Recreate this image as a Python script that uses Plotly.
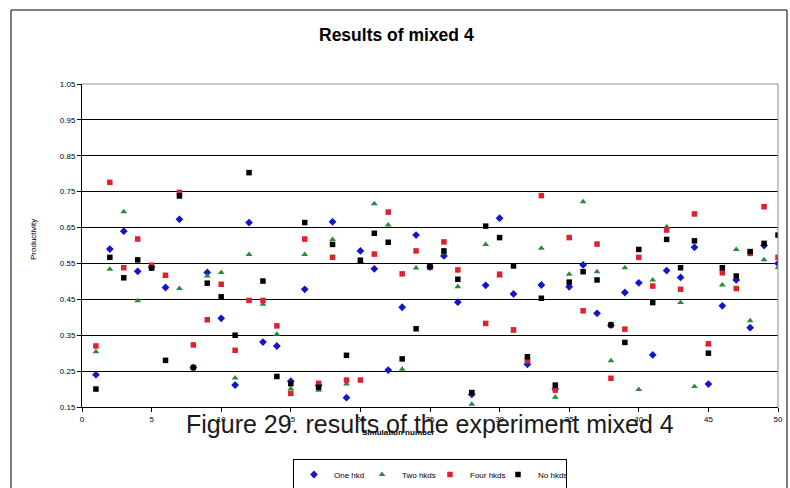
import plotly.graph_objects as go

sims = list(range(1, 51))

one_hkd = [0.24, 0.59, 0.64, 0.528, 0.54, 0.483, 0.673, 0.26, 0.525, 0.397,
           0.211, 0.664, 0.331, 0.32, 0.222, 0.478, 0.21, 0.666, 0.176, 0.585,
           0.535, 0.253, 0.428, 0.629, 0.54, 0.571, 0.442, 0.185, 0.489, 0.676,
           0.465, 0.269, 0.49, 0.2, 0.485, 0.546, 0.411, 0.378, 0.469, 0.496,
           0.295, 0.53, 0.511, 0.595, 0.214, 0.432, 0.504, 0.371, 0.6, 0.55]

two_hkds = [0.304, 0.534, 0.694, 0.446, 0.54, 0.515, 0.48, 0.262, 0.515, 0.525,
            0.231, 0.575, 0.436, 0.353, 0.201, 0.575, 0.197, 0.617, 0.214, 0.556,
            0.716, 0.657, 0.255, 0.537, 0.54, 0.58, 0.485, 0.158, 0.603, 0.515,
            0.362, 0.28, 0.592, 0.177, 0.52, 0.722, 0.527, 0.279, 0.538, 0.199,
            0.504, 0.652, 0.441, 0.207, 0.325, 0.49, 0.589, 0.39, 0.56, 0.539]

four_hkds = [0.32, 0.776, 0.538, 0.618, 0.545, 0.517, 0.748, 0.323, 0.393, 0.492,
             0.308, 0.447, 0.447, 0.376, 0.188, 0.618, 0.216, 0.567, 0.225, 0.225,
             0.576, 0.693, 0.521, 0.585, 0.54, 0.61, 0.532, 0.19, 0.383, 0.52,
             0.365, 0.279, 0.739, 0.197, 0.622, 0.418, 0.604, 0.23, 0.367, 0.567,
             0.487, 0.643, 0.478, 0.688, 0.326, 0.524, 0.48, 0.578, 0.708, 0.567]

no_hkds = [0.2, 0.567, 0.51, 0.56, 0.537, 0.28, 0.738, 0.26, 0.495, 0.457,
           0.35, 0.803, 0.501, 0.235, 0.215, 0.664, 0.205, 0.603, 0.294, 0.559,
           0.634, 0.609, 0.284, 0.368, 0.541, 0.585, 0.506, 0.19, 0.654, 0.622,
           0.543, 0.29, 0.453, 0.211, 0.498, 0.527, 0.504, 0.379, 0.33, 0.589,
           0.441, 0.617, 0.538, 0.613, 0.3, 0.538, 0.515, 0.583, 0.606, 0.629]

series = [
    ("One hkd", one_hkd, "diamond", "#1414c8", 6),
    ("Two hkds", two_hkds, "triangle-up", "#2a8a3a", 6),
    ("Four hkds", four_hkds, "square", "#e0202c", 5.5),
    ("No hkds", no_hkds, "square", "#000000", 5.5),
]

W, H = 790, 488
L, R, T, B = 82, 778, 84, 407

def px(xp):
    return (xp - L) / (R - L)

def py(yp):
    return (B - yp) / (B - T)

fig = go.Figure()
for name, vals, sym, col, sz in series:
    fig.add_trace(go.Scatter(
        x=sims, y=vals, mode="markers", name=name,
        marker=dict(symbol=sym, color=col, size=sz, line=dict(width=0)),
    ))

font_fam = "Liberation Sans, Arial, sans-serif"

fig.update_layout(
    width=W, height=H,
    margin=dict(l=L, r=W - R, t=T, b=H - B, autoexpand=False),
    paper_bgcolor="white", plot_bgcolor="white",
    font=dict(family=font_fam, size=8, color="black"),
    showlegend=True,
    legend=dict(
        orientation="h", xref="container", yref="container",
        x=430 / W, xanchor="center", y=1 - 459 / H, yanchor="top",
        bordercolor="black", borderwidth=1, font=dict(size=8),
        itemwidth=30, tracegroupgap=0, entrywidth=23, entrywidthmode="pixels",
    ),
    xaxis=dict(
        range=[0, 50], tick0=0, dtick=5, showgrid=False, zeroline=False,
        showline=True, linecolor="black", linewidth=1,
        ticks="outside", ticklen=4, tickcolor="black",
        tickfont=dict(size=8),
    ),
    yaxis=dict(
        range=[0.15, 1.05], tick0=0.15, dtick=0.1, tickformat=".2f",
        showgrid=True, gridcolor="black", gridwidth=1, zeroline=False,
        showline=True, linecolor="black", linewidth=1,
        ticks="outside", ticklen=4, tickcolor="black",
        tickfont=dict(size=8),
    ),
    shapes=[
        dict(type="line", xref="paper", yref="paper", x0=0, x1=1, y0=1, y1=1,
             line=dict(color="#8c8c8c", width=1)),
        dict(type="line", xref="paper", yref="paper", x0=1, x1=1, y0=0, y1=1,
             line=dict(color="#8c8c8c", width=1)),
        dict(type="rect", xref="paper", yref="paper",
             x0=px(11), x1=px(787), y0=py(520), y1=py(10),
             line=dict(color="black", width=1), fillcolor="rgba(0,0,0,0)",
             layer="below"),
    ],
    annotations=[
        dict(text="<b>Results of mixed 4</b>", xref="paper", yref="paper",
             x=px(396), y=py(35), xanchor="center", yanchor="middle",
             showarrow=False, font=dict(size=17.5, family=font_fam)),
        dict(text="Productivity", xref="paper", yref="paper",
             x=px(33), y=py(240), xanchor="center", yanchor="middle",
             textangle=-90, showarrow=False, font=dict(size=8, family=font_fam)),
        dict(text="<b>Simulation number</b>", xref="paper", yref="paper",
             x=px(398), y=py(432), xanchor="center", yanchor="middle",
             showarrow=False, font=dict(size=8, family=font_fam)),
        dict(text="Figure 29. results of the experiment mixed 4", xref="paper",
             yref="paper", x=px(430), y=py(424), xanchor="center",
             yanchor="middle", showarrow=False,
             font=dict(size=25, family=font_fam, color="#1a1a1a")),
    ],
)

fig.write_html("out.html")
